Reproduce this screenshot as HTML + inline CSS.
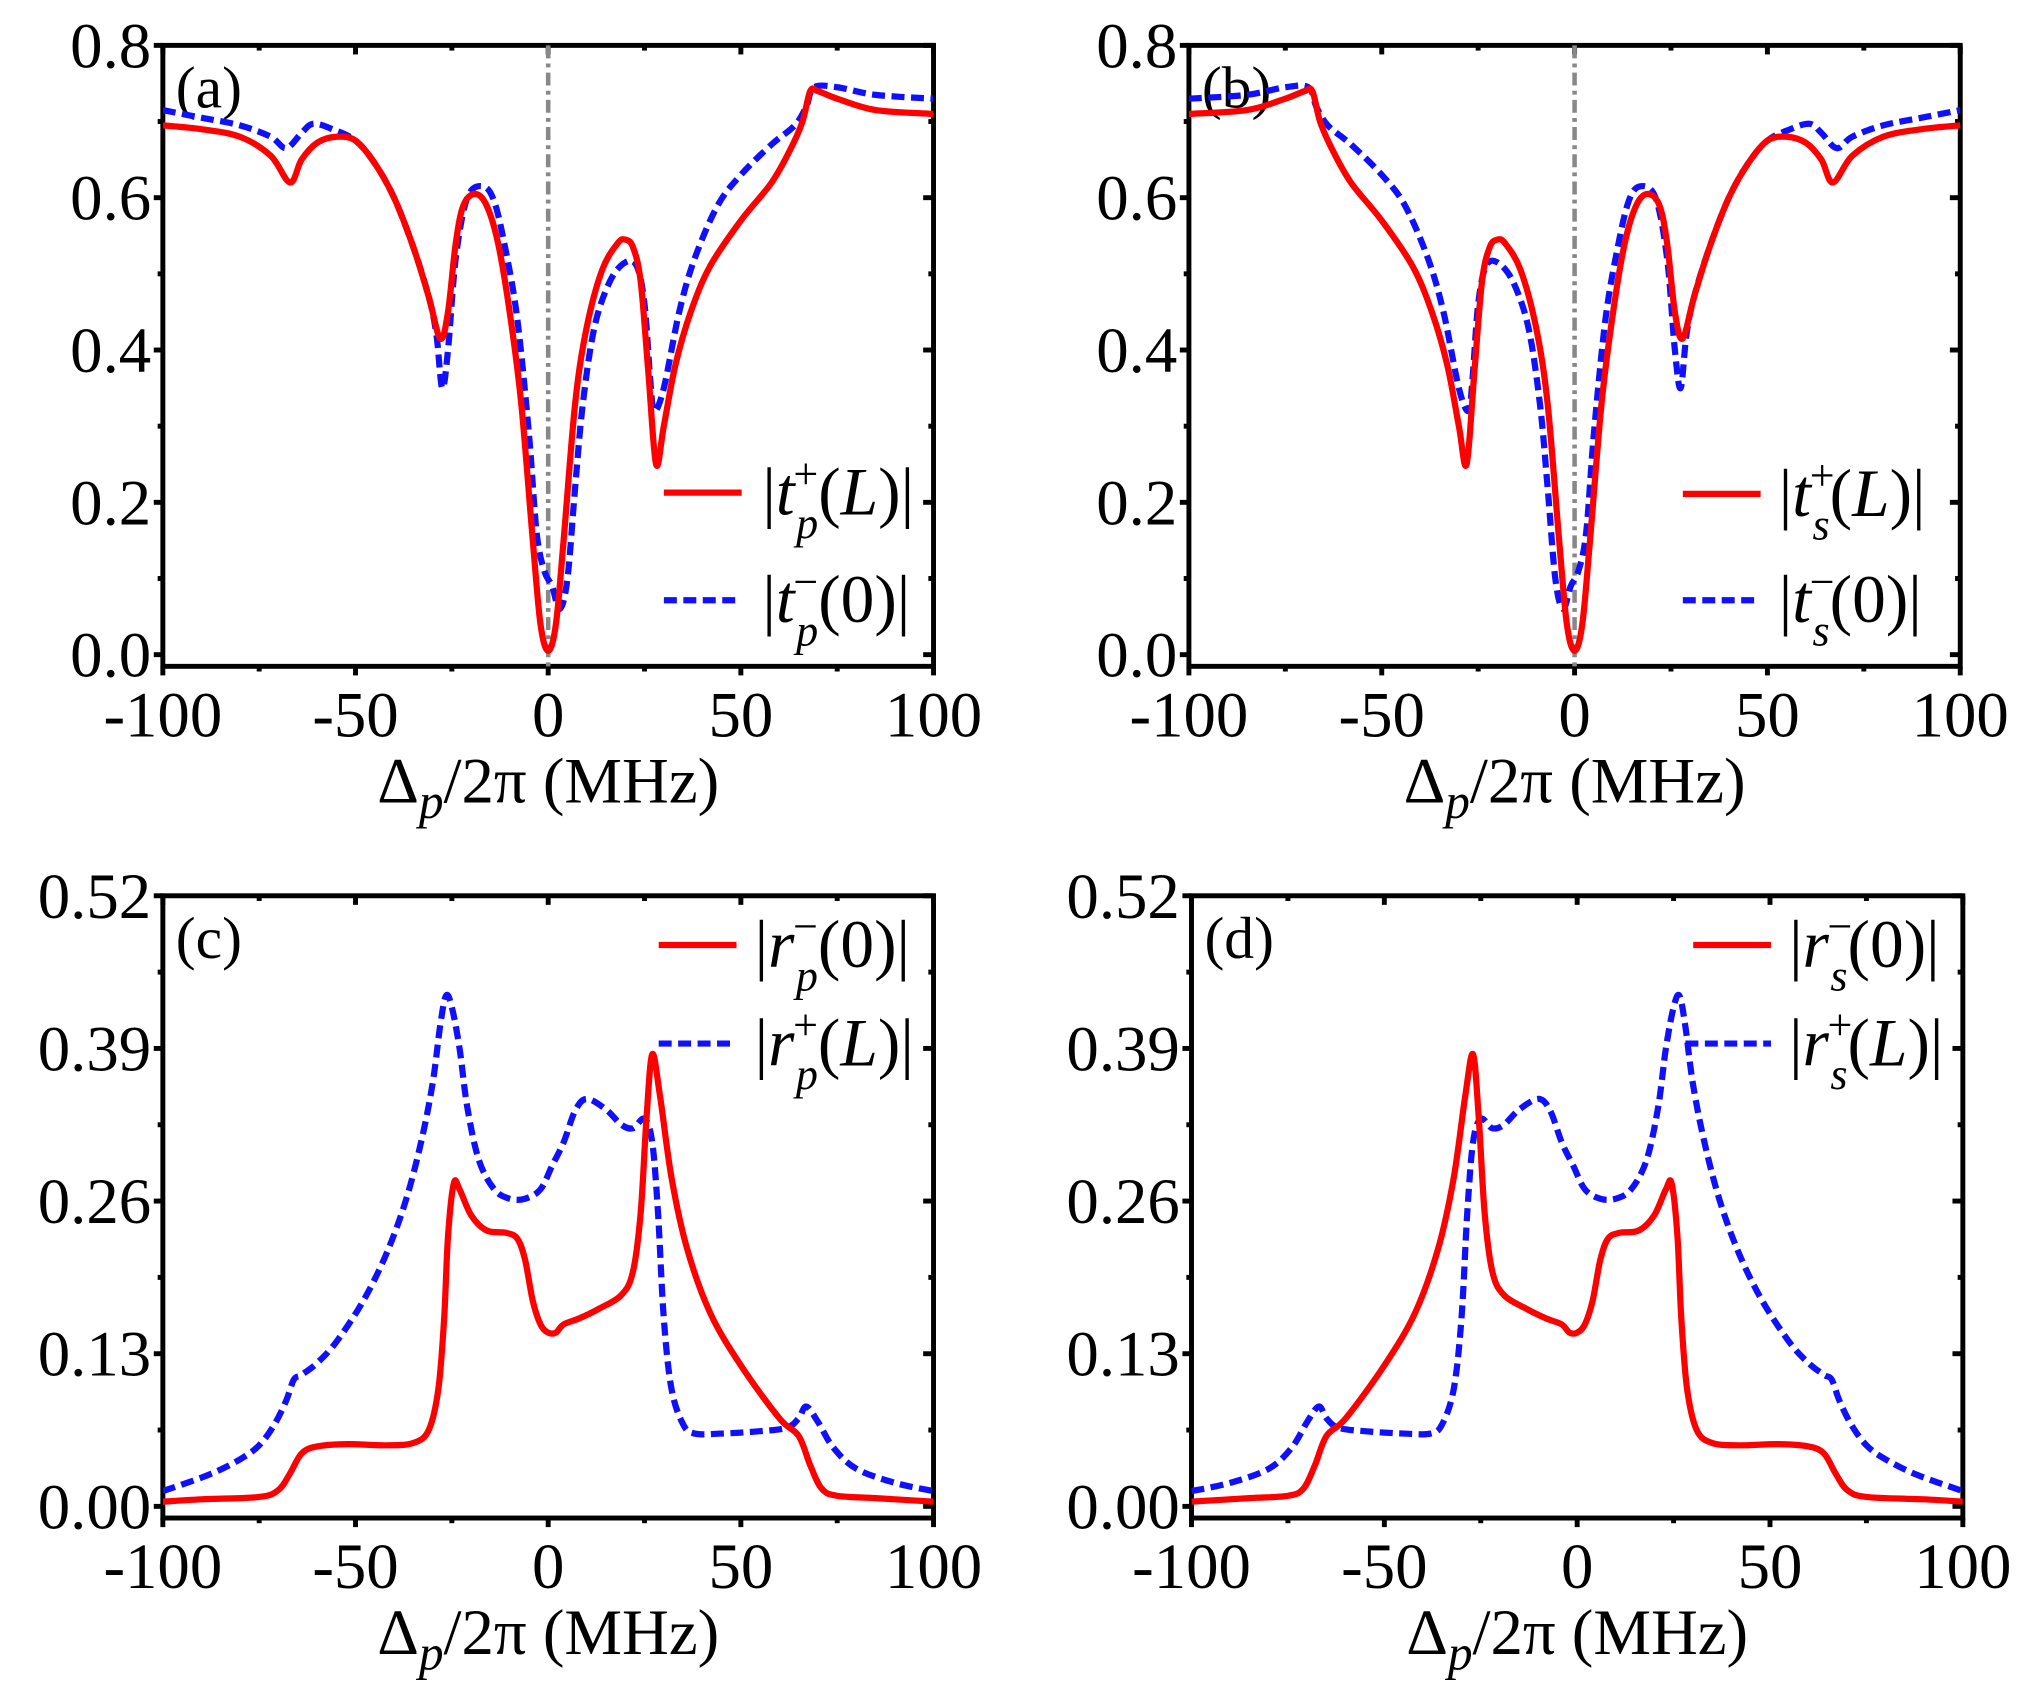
<!DOCTYPE html>
<html><head><meta charset="utf-8"><style>
html,body{margin:0;padding:0;background:#fff}
svg{display:block}
svg text{font-family:"Liberation Serif","Times New Roman","DejaVu Serif",serif !important;fill:#000}
</style></head><body>
<svg id="s" width="2033" height="1706" viewBox="0 0 1568 1316" xmlns="http://www.w3.org/2000/svg" font-family="Liberation Serif, serif"></svg>
<script>
const S=document.getElementById('s');let out='';
const FF='font-family="Liberation Serif, Times New Roman, serif"';
function crPath(pts){let d='M'+pts[0][0].toFixed(2)+','+pts[0][1].toFixed(2);
for(let i=0;i<pts.length-1;i++){const p0=pts[Math.max(0,i-1)],p1=pts[i],p2=pts[i+1],p3=pts[Math.min(pts.length-1,i+2)];
const t=0.5/3;const c1=[p1[0]+(p2[0]-p0[0])*t,p1[1]+(p2[1]-p0[1])*t],c2=[p2[0]-(p3[0]-p1[0])*t,p2[1]-(p3[1]-p1[1])*t];
d+='C'+c1.map(v=>v.toFixed(2)).join(',')+' '+c2.map(v=>v.toFixed(2)).join(',')+' '+p2[0].toFixed(2)+','+p2[1].toFixed(2);}return d;}
function panel(o){
 const {L,R,T,B,y0,ymax,yticks,ylab,lab,vline}=o;
 const X=x=>L+(x+100)/200*(R-L), Y=y=>y0-(y/ymax)*(y0-T);
 out+=`<rect x="${L}" y="${T}" width="${R-L}" height="${B-T}" fill="none" stroke="#000" stroke-width="3.8"/>`;
 for(let x=-100;x<=100;x+=25){const maj=x%50==0;const px=X(x);
  out+=`<line x1="${px}" y1="${B}" x2="${px}" y2="${B+(maj?7:4)}" stroke="#000" stroke-width="3.8"/>`;
  out+=`<line x1="${px}" y1="${T}" x2="${px}" y2="${T+(maj?7:4)}" stroke="#000" stroke-width="3.8"/>`;
  if(maj) out+=`<text ${FF} x="${px}" y="${B+54}" font-size="50" text-anchor="middle">${x}</text>`;}
 for(let i=0;i<yticks.length;i++){const py=Y(yticks[i]);
  out+=`<line x1="${L-7}" y1="${py}" x2="${L}" y2="${py}" stroke="#000" stroke-width="3.8"/>`;
  out+=`<line x1="${R-8}" y1="${py}" x2="${R}" y2="${py}" stroke="#000" stroke-width="3.8"/>`;
  out+=`<text ${FF} x="${L-9}" y="${py+17}" font-size="50" text-anchor="end">${ylab[i]}</text>`;
  if(i<yticks.length-1){const m=Y((yticks[i]+yticks[i+1])/2);
   out+=`<line x1="${L-4}" y1="${m}" x2="${L}" y2="${m}" stroke="#000" stroke-width="3.8"/>`;
   out+=`<line x1="${R-4}" y1="${m}" x2="${R}" y2="${m}" stroke="#000" stroke-width="3.8"/>`;}}
 out+=`<text ${FF} x="${(L+R)/2}" y="${B+105}" font-size="50" text-anchor="middle">Δ<tspan font-style="italic" font-size="38" dy="12">p</tspan><tspan dy="-12">/2π (MHz)</tspan></text>`;
 out+=`<text ${FF} x="${L+10}" y="${T+48}" font-size="46">${lab}</text>`;
 if(vline) out+=`<line x1="${X(0)}" y1="${T}" x2="${X(0)}" y2="${B}" stroke="#888" stroke-width="3.5" stroke-dasharray="10,4,3,4"/>`;
 out+=`<clipPath id="c${lab[1]}"><rect x="${L}" y="${T}" width="${R-L}" height="${B-T}"/></clipPath>`;
 const draw=(data,col,dash)=>{const pts=data.map(p=>[X(p[0]),Y(p[1])]);
  out+=`<path clip-path="url(#c${lab[1]})" d="${crPath(pts)}" fill="none" stroke="${col}" stroke-width="4.8" ${dash?'stroke-dasharray="10,5"':''} stroke-linejoin="round"/>`;};
 draw(o.blue,'#1010ff',true);draw(o.red,'#ff0000',false);
 for(const lg of o.leg){out+=`<line x1="${lg.x1}" y1="${lg.y}" x2="${lg.x2}" y2="${lg.y}" stroke="${lg.c}" stroke-width="4.8" ${lg.d?'stroke-dasharray="10,5"':''}/>`;
  out+=`<text ${FF} x="${lg.tx}" y="${lg.y+17}" font-size="52">|<tspan font-style="italic">${lg.v}</tspan><tspan font-size="34" dx="-1" dy="-20">${lg.sup}</tspan><tspan font-size="34" font-style="italic" dx="-17" dy="38">${lg.sub}</tspan><tspan dy="-18">(</tspan><tspan font-style="${lg.arg=='L'?'italic':'normal'}">${lg.arg}</tspan>)|</text>`;}
}
const mir=a=>a.map(p=>[-p[0],p[1]]).reverse();
const aRed=[[-100,.695],[-90,.69],[-80,.68],[-72,.655],[-67,.62],[-64,.65],[-60,.672],[-55,.68],[-50,.675],[-45,.645],[-40,.6],[-35,.535],[-31,.47],[-28,.415],[-26,.45],[-24,.54],[-22,.59],[-19,.605],[-16,.59],[-13,.54],[-10,.45],[-7,.33],[-4,.15],[-2,.04],[0,.005],[2,.04],[4,.15],[7,.33],[10,.43],[14,.505],[18,.54],[20,.545],[22,.535],[24,.49],[26,.37],[28,.25],[30,.3],[33,.38],[37,.45],[42,.51],[50,.57],[58,.62],[63,.665],[66,.7],[68,.74],[70,.74],[75,.73],[85,.715],[100,.71]];
const aBlue=[[-100,.715],[-90,.705],[-80,.695],[-72,.68],[-68,.665],[-64,.685],[-61,.697],[-56,.69],[-50,.675],[-45,.645],[-40,.6],[-35,.535],[-31,.47],[-29,.42],[-27.5,.35],[-26,.4],[-24,.52],[-21,.6],[-17,.615],[-14,.595],[-11,.53],[-8,.44],[-5,.29],[-3,.16],[-1,.11],[1,.09],[3,.06],[5,.1],[7,.22],[9,.33],[12,.43],[16,.49],[20,.515],[23,.51],[25,.46],[26.5,.36],[27.5,.32],[30,.35],[34,.45],[38,.52],[44,.59],[50,.63],[58,.67],[64,.695],[67,.72],[69,.745],[75,.745],[85,.735],[100,.73]];
const dRed=[[-100,.004],[-85,.007],[-75,.009],[-71,.015],[-68,.035],[-65,.06],[-60,.075],[-50,.12],[-42,.165],[-36,.22],[-32,.28],[-29,.35],[-27,.385],[-25.5,.33],[-24,.25],[-22,.2],[-19,.18],[-13,.168],[-8,.16],[-4,.155],[-2,.148],[0,.148],[2,.155],[4,.175],[6,.21],[8,.228],[11,.233],[16,.235],[20,.248],[23,.27],[24.5,.275],[26,.23],[27,.16],[28.5,.1],[31,.065],[35,.054],[42,.052],[52,.053],[60,.051],[64,.045],[67,.028],[70,.014],[75,.008],[90,.006],[100,.004]];
const dBlue=[[-100,.013],[-90,.02],[-80,.032],[-74,.05],[-70,.072],[-67,.085],[-65,.075],[-62,.067],[-55,.064],[-45,.062],[-38,.062],[-35,.07],[-32,.1],[-30,.16],[-28.5,.25],[-27,.31],[-25,.33],[-22,.322],[-19,.325],[-15,.338],[-10,.347],[-7,.337],[-4,.31],[-1,.29],[2,.27],[6,.262],[10,.262],[14,.27],[18,.295],[21,.34],[23,.39],[25,.425],[26.5,.435],[28,.41],[30,.36],[33,.31],[37,.26],[42,.215],[48,.175],[55,.14],[60,.122],[64,.112],[66,.108],[68,.09],[71,.07],[75,.052],[80,.04],[88,.027],[100,.013]];
const yt1=[0,.2,.4,.6,.8],yl1=['0.0','0.2','0.4','0.6','0.8'];
const yt2=[0,.13,.26,.39,.52],yl2=['0.00','0.13','0.26','0.39','0.52'];
panel({L:125.5,R:720,T:35,B:514,y0:505,ymax:.8,yticks:yt1,ylab:yl1,lab:'(a)',vline:1,red:aRed,blue:aBlue,
 leg:[{x1:512,x2:572,y:380,c:'#ff0000',tx:588,v:'t',sup:'+',sub:'p',arg:'L'},{x1:512,x2:572,y:463,c:'#1010ff',d:1,tx:588,v:'t',sup:'−',sub:'p',arg:'0'}]});
panel({L:917,R:1512,T:35,B:514,y0:505,ymax:.8,yticks:yt1,ylab:yl1,lab:'(b)',vline:1,red:mir(aRed),blue:mir(aBlue),
 leg:[{x1:1298,x2:1358,y:381,c:'#ff0000',tx:1372,v:'t',sup:'+',sub:'s',arg:'L'},{x1:1298,x2:1358,y:463,c:'#1010ff',d:1,tx:1372,v:'t',sup:'−',sub:'s',arg:'0'}]});
panel({L:125.5,R:720,T:691,B:1171,y0:1162,ymax:.52,yticks:yt2,ylab:yl2,lab:'(c)',red:mir(dRed),blue:mir(dBlue),
 leg:[{x1:508,x2:568,y:729,c:'#ff0000',tx:582,v:'r',sup:'−',sub:'p',arg:'0'},{x1:508,x2:568,y:805,c:'#1010ff',d:1,tx:582,v:'r',sup:'+',sub:'p',arg:'L'}]});
panel({L:919,R:1514,T:691,B:1171,y0:1162,ymax:.52,yticks:yt2,ylab:yl2,lab:'(d)',red:dRed,blue:dBlue,
 leg:[{x1:1306,x2:1366,y:729,c:'#ff0000',tx:1380,v:'r',sup:'−',sub:'s',arg:'0'},{x1:1300,x2:1366,y:805,c:'#1010ff',d:1,tx:1380,v:'r',sup:'+',sub:'s',arg:'L'}]});
S.innerHTML=out;
</script>
</body></html>
